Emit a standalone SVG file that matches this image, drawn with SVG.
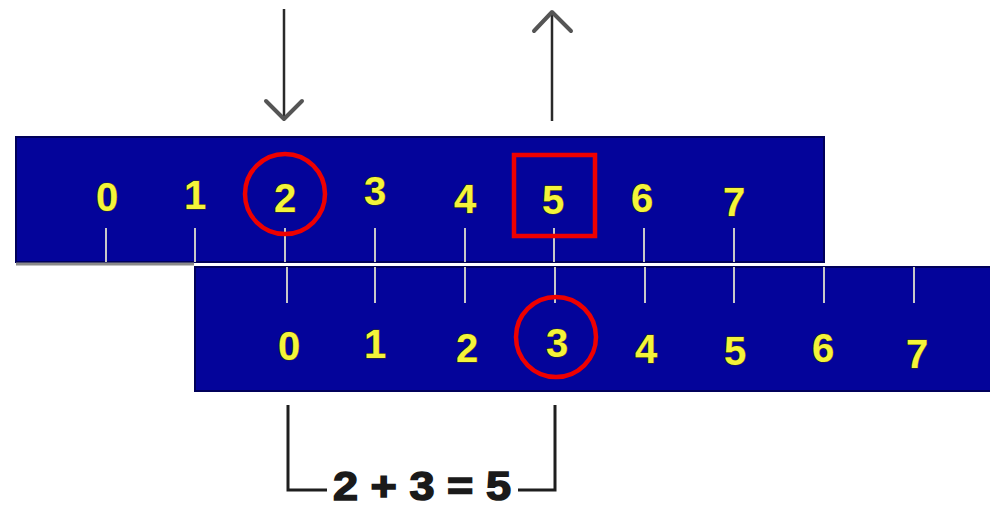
<svg xmlns="http://www.w3.org/2000/svg" width="990" height="510" viewBox="0 0 990 510">
  <defs>
    <style>
      .bar { fill: #04049a; stroke: #00005a; stroke-width: 2; }
      .tick { stroke: #c8c8c8; stroke-width: 2; }
      .num { font-family: "Liberation Sans", Arial, sans-serif; font-weight: bold; font-size: 40px; fill: #f4f43a; stroke: #3a3a00; stroke-width: 1; paint-order: stroke; text-anchor: middle; }
      .mark { fill: none; stroke: #ee0000; stroke-width: 4.5; }
      .arrow { fill: none; stroke: #2a2a2a; stroke-width: 2.5; }
      .head { fill: none; stroke: #555; stroke-width: 4; stroke-linecap: round; stroke-linejoin: round; }
      .bracket { fill: none; stroke: #1e1e1e; stroke-width: 3; }
      .sum { font-family: "Liberation Sans", Arial, sans-serif; font-weight: bold; font-size: 40px; fill: #1a1a1a; stroke: #1a1a1a; stroke-width: 1.5; text-anchor: middle; }
    </style>
  </defs>

  <rect width="990" height="510" fill="#ffffff"/>

  <!-- upper scale -->
  <g id="scale-top">
    <rect class="bar" x="16" y="137" width="808" height="125"/>
    <line x1="16" y1="264" x2="194" y2="264" stroke="#8a8a8a" stroke-width="3"/>
    <g class="tick-set">
      <line class="tick" x1="106" y1="228" x2="106" y2="262"/>
      <line class="tick" x1="195" y1="228" x2="195" y2="262"/>
      <line class="tick" x1="285" y1="228" x2="285" y2="262"/>
      <line class="tick" x1="375" y1="228" x2="375" y2="262"/>
      <line class="tick" x1="465" y1="228" x2="465" y2="262"/>
      <line class="tick" x1="554" y1="228" x2="554" y2="262"/>
      <line class="tick" x1="644" y1="228" x2="644" y2="262"/>
      <line class="tick" x1="734" y1="228" x2="734" y2="262"/>
    </g>
    <text class="num" x="107" y="211">0</text>
    <text class="num" x="195" y="209">1</text>
    <text class="num" x="285" y="212">2</text>
    <text class="num" x="375" y="205">3</text>
    <text class="num" x="465" y="213">4</text>
    <text class="num" x="553" y="214">5</text>
    <text class="num" x="642" y="212">6</text>
    <text class="num" x="734" y="216">7</text>
  </g>

  <!-- lower scale -->
  <g id="scale-bottom">
    <rect class="bar" x="195" y="267" width="796" height="124"/>
    <g class="tick-set">
      <line class="tick" x1="287" y1="267" x2="287" y2="303"/>
      <line class="tick" x1="375" y1="267" x2="375" y2="303"/>
      <line class="tick" x1="465" y1="267" x2="465" y2="303"/>
      <line class="tick" x1="555" y1="267" x2="555" y2="303"/>
      <line class="tick" x1="645" y1="267" x2="645" y2="303"/>
      <line class="tick" x1="734" y1="267" x2="734" y2="303"/>
      <line class="tick" x1="824" y1="267" x2="824" y2="303"/>
      <line class="tick" x1="914" y1="267" x2="914" y2="303"/>
    </g>
    <text class="num" x="289" y="360">0</text>
    <text class="num" x="375" y="358">1</text>
    <text class="num" x="467" y="362">2</text>
    <text class="num" x="557" y="357">3</text>
    <text class="num" x="646" y="363">4</text>
    <text class="num" x="735" y="365">5</text>
    <text class="num" x="823" y="362">6</text>
    <text class="num" x="917" y="368">7</text>
  </g>

  <!-- highlights -->
  <g id="highlight-2">
    <circle class="mark" cx="285" cy="194" r="40"/>
  </g>
  <g id="highlight-5">
    <rect class="mark" x="514" y="155" width="81" height="81"/>
  </g>
  <g id="highlight-3">
    <circle class="mark" cx="556" cy="337" r="40"/>
  </g>

  <!-- pointers and sum bracket -->
  <g id="connectors">
    <line class="arrow" x1="284" y1="9" x2="284" y2="118"/>
    <polyline class="head" points="266,101 284,119 302,101"/>
    <line class="arrow" x1="552" y1="121" x2="552" y2="11"/>
    <polyline class="head" points="534,31 552,12 571,31"/>
    <polyline class="bracket" points="288,405 288,490 327,490"/>
    <polyline class="bracket" points="518,490 555,490 555,405"/>
  </g>

  <g id="sum-label">
    <text class="sum" x="422" y="500" textLength="178" lengthAdjust="spacingAndGlyphs">2 + 3 = 5</text>
  </g>
</svg>
